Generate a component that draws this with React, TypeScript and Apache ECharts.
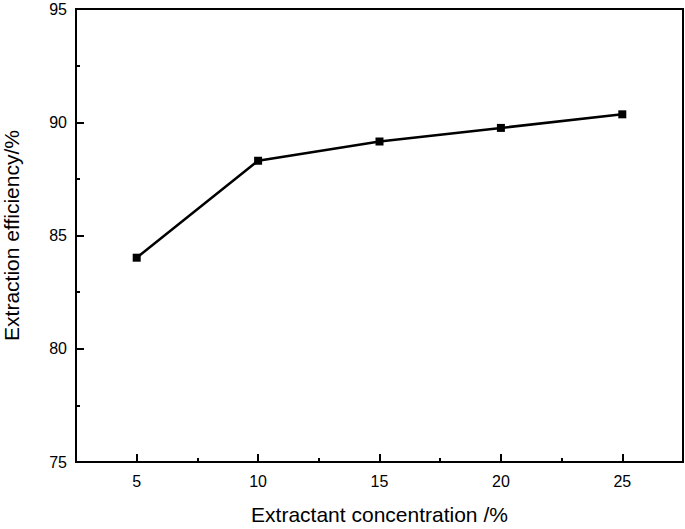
import React, { useEffect, useRef } from "react";
import * as echarts from "echarts";

const concentrations = [5, 10, 15, 20, 25];
const efficiencies = [84.02, 88.3, 89.15, 89.75, 90.35];
const xMajorTicks = [5, 10, 15, 20, 25];
const xMinorTicks = [7.5, 12.5, 17.5, 22.5];

const FONT = "'Liberation Sans', Arial, sans-serif";

export default function App() {
  const ref = useRef<HTMLDivElement>(null);
  useEffect(() => {
    document.body.style.margin = "0";
    if (!ref.current) return;
    const chart = echarts.init(ref.current, undefined, { renderer: "svg" });
    const axisLine = { show: true, lineStyle: { color: "#000", width: 2 } };
    chart.setOption({
      animation: false,
      backgroundColor: "#fff",
      grid: {
        left: 76,
        right: 2,
        top: 9,
        bottom: 67,
        show: true,
        borderColor: "#000",
        borderWidth: 2,
        containLabel: false,
        outerBoundsMode: "none",
      },
      xAxis: [
        {
          type: "value",
          min: 2.5,
          max: 27.5,
          position: "bottom",
          name: "Extractant concentration /%",
          nameLocation: "middle",
          nameGap: 42,
          nameTextStyle: { fontFamily: FONT, fontSize: 21, color: "#000" },
          axisLine,
          axisTick: {
            show: true,
            inside: true,
            length: 8,
            customValues: xMajorTicks,
            lineStyle: { color: "#000", width: 2 },
          },
          axisLabel: {
            customValues: xMajorTicks,
            fontFamily: FONT,
            fontSize: 16,
            color: "#000",
            margin: 11,
          },
          splitLine: { show: false },
        },
        {
          type: "value",
          min: 2.5,
          max: 27.5,
          position: "bottom",
          axisLine: { show: false },
          axisTick: {
            show: true,
            inside: true,
            length: 4,
            customValues: xMinorTicks,
            lineStyle: { color: "#000", width: 2 },
          },
          axisLabel: { show: false },
          splitLine: { show: false },
        },
      ],
      yAxis: {
        type: "value",
        min: 75,
        max: 95,
        interval: 5,
        name: "Extraction efficiency/%",
        nameLocation: "middle",
        nameGap: 54,
        nameTextStyle: { fontFamily: FONT, fontSize: 21, color: "#000" },
        axisLine,
        axisTick: {
          show: true,
          inside: true,
          length: 8,
          lineStyle: { color: "#000", width: 2 },
        },
        minorTick: {
          show: true,
          splitNumber: 2,
          length: 4,
          lineStyle: { color: "#000", width: 2 },
        },
        axisLabel: {
          fontFamily: FONT,
          fontSize: 16,
          color: "#000",
          margin: 9,
        },
        splitLine: { show: false },
        minorSplitLine: { show: false },
      },
      series: [
        {
          type: "line",
          xAxisIndex: 0,
          data: concentrations.map((c, i) => [c, efficiencies[i]]),
          symbol: "rect",
          symbolSize: 8,
          itemStyle: { color: "#000" },
          lineStyle: { color: "#000", width: 2.5 },
        },
      ],
    });
    return () => chart.dispose();
  }, []);
  return <div ref={ref} style={{ width: 685, height: 529 }} />;
}
